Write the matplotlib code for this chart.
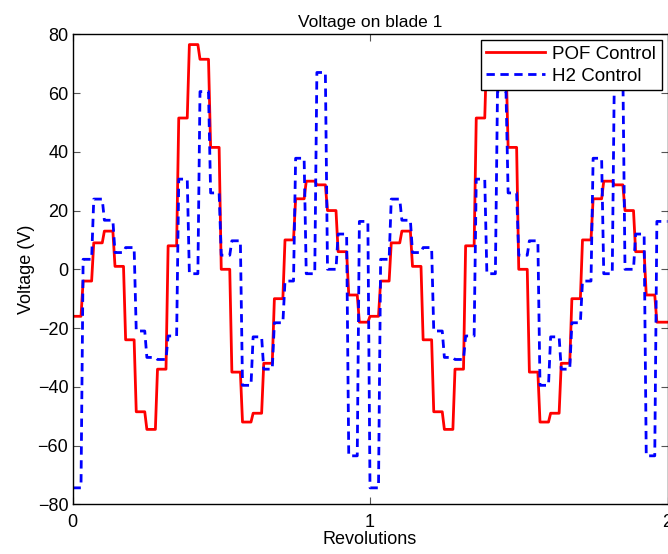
import numpy as np
import matplotlib
matplotlib.use("Agg")
import matplotlib.pyplot as plt

plt.rcParams['font.family'] = ['Liberation Sans', 'DejaVu Sans']

# one value per step, 28 steps per revolution, same pattern each revolution
n_rev = 2
steps_per_rev = 28
samples_per_step = 5

pof_steps = [-16, -4, 9, 13, 1, -24, -48.5, -54.5, -34, 8, 51.5, 76.5, 71.5, 41.5,
             0, -35, -52, -49, -32, -10, 10, 24, 30, 28.75, 20, 6, -8.75, -18]
h2_steps = [-74.4, 3.4, 23.9, 16.7, 5.7, 7.4, -21, -30, -30.7, -22.7, 30.7, -1.5, 60.5, 26,
            4.8, 9.7, -39.5, -23, -34, -18.2, -4, 37.8, -1.5, 67, 0, 12, -63.5, 16.3]

labels = ['POF Control', 'H2 Control']

def build(steps):
    v = np.repeat(np.tile(steps, n_rev), samples_per_step)
    v = np.append(v, v[-1])
    x = np.arange(len(v)) / (steps_per_rev * samples_per_step)
    return x, v

x1, y1 = build(pof_steps)
x2, y2 = build(h2_steps)

fig = plt.figure(figsize=(6.68, 5.54), dpi=100)
W, H = 668, 554
ax = fig.add_axes([72.5 / W, (H - 504.3) / H, (667.5 - 72.5) / W, (504.3 - 34.3) / H])

ax.plot(x1, y1, color='red', lw=2, label=labels[0])
ax.plot(x2, y2, color='blue', lw=2, dashes=(3, 2), label=labels[1])

ax.set_xlim(0, 2)
ax.set_ylim(-80, 80)
ax.set_xticks([0, 1, 2])
ax.set_yticks(np.arange(-80, 81, 20))
ax.tick_params(direction='in', top=True, right=True, length=5, labelsize=13,
               color='#555555')
ax.tick_params(axis='x', pad=7)
ax.tick_params(axis='y', pad=3)
for s in ax.spines.values():
    s.set_linewidth(1)

ax.set_title('Voltage on blade 1', fontsize=12.5, pad=5)
ax.set_xlabel('Revolutions', fontsize=13, labelpad=0)
ax.set_ylabel('Voltage (V)', fontsize=13, labelpad=2)

leg = ax.legend(loc='upper right', fontsize=13.5, fancybox=False, framealpha=1,
                edgecolor='black', borderaxespad=0.32, handlelength=3.1,
                handletextpad=0.4, labelspacing=0.25, borderpad=0.3)
leg.get_frame().set_linewidth(1)

fig.savefig('out.png', dpi=100)
